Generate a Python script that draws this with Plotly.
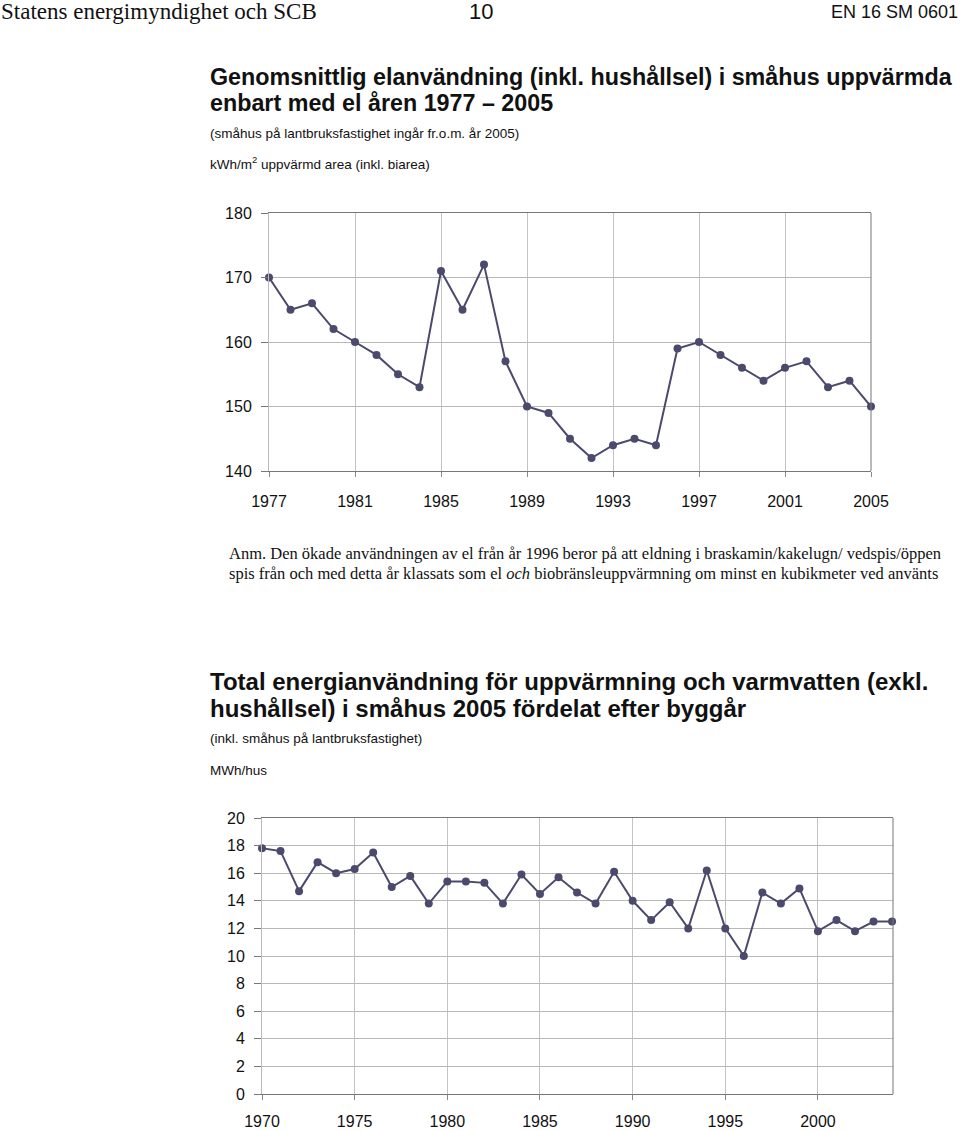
import plotly.graph_objects as go

# ---------- data ----------
years_el = list(range(1977, 2006))
el_use = [170, 165, 166, 162, 160, 158, 155, 153, 171, 165, 172, 157, 150, 149, 145,
          142, 144, 145, 144, 159, 160, 158, 156, 154, 156, 157, 153, 154, 150]

build_years = list(range(1970, 2005))
energy_mwh = [17.8, 17.6, 14.7, 16.8, 16.0, 16.3, 17.5, 15.0, 15.8, 13.8, 15.4, 15.4,
              15.3, 13.8, 15.9, 14.5, 15.7, 14.6, 13.8, 16.1, 14.0, 12.6, 13.9, 12.0,
              16.2, 12.0, 10.0, 14.6, 13.8, 14.9, 11.8, 12.6, 11.8, 12.5, 12.5]

W, H = 960, 1131
LINE = "#4b4a6d"
SANS = "Liberation Sans, Arial, sans-serif"
SERIF = "Liberation Serif, Times New Roman, serif"

def px(x):
    return x / W

def py(y):
    return 1 - y / H

fig = go.Figure()
fig.add_trace(go.Scatter(x=years_el, y=el_use, mode="lines+markers",
                         line=dict(color=LINE, width=2),
                         marker=dict(color=LINE, size=8),
                         xaxis="x", yaxis="y", showlegend=False, cliponaxis=False))
fig.add_trace(go.Scatter(x=build_years, y=energy_mwh, mode="lines+markers",
                         line=dict(color=LINE, width=2),
                         marker=dict(color=LINE, size=8),
                         xaxis="x2", yaxis="y2", showlegend=False, cliponaxis=False))

tickfont = dict(family=SANS, size=16, color="#111")
common_x = dict(showgrid=True, gridcolor="#c4c4c4", gridwidth=1, showline=True,
                linecolor="#777", linewidth=1, mirror=True, ticks="outside",
                ticklen=5, tickcolor="#888", tickfont=tickfont, zeroline=False,
                automargin=False)
common_y = dict(showgrid=True, gridcolor="#b8b8b8", gridwidth=1, showline=True,
                linecolor="#bbbbbb", linewidth=1, ticks="outside", ticklen=7,
                tickcolor="#777", tickfont=tickfont, zeroline=False,
                automargin=False, ticklabelstandoff=6)

fig.update_layout(
    width=W, height=H,
    margin=dict(l=0, r=0, t=0, b=0, pad=0, autoexpand=False),
    paper_bgcolor="white", plot_bgcolor="white",
    xaxis=dict(domain=[px(269), px(871)], range=[1977, 2005], tickmode="linear",
               tick0=1977, dtick=4, anchor="y", ticklabelstandoff=11, **common_x),
    yaxis=dict(domain=[py(471), py(213)], range=[140, 180], tickmode="linear",
               tick0=140, dtick=10, anchor="x", **common_y),
    xaxis2=dict(domain=[px(262), px(893)], range=[1970, 2004.05], tickmode="linear",
                tick0=1970, dtick=5, anchor="y2", ticklabelstandoff=8, **common_x),
    yaxis2=dict(domain=[py(1094), py(818)], range=[0, 20], tickmode="linear",
                tick0=0, dtick=2, anchor="x2", **common_y),
)

# right borders (darker)
for xr, yr in (("x domain", "y domain"), ("x2 domain", "y2 domain")):
    fig.add_shape(type="line", xref=xr, yref=yr, x0=1, x1=1, y0=0, y1=1,
                  line=dict(color="#777", width=1))

def text(x, y, s, size, family=SANS, bold=False, anchor="left", color="#111"):
    if bold:
        s = "<b>" + s + "</b>"
    fig.add_annotation(x=px(x), y=py(y), xref="paper", yref="paper", text=s,
                       showarrow=False, xanchor=anchor, yanchor="middle",
                       borderpad=0, font=dict(family=family, size=size, color=color))

# header
text(0, 12, "Statens energimyndighet och SCB", 23, SERIF)
text(481, 12, "10", 22, SANS, anchor="center")
text(959, 12, "EN 16 SM 0601", 18, SANS, anchor="right")

# chart 1 texts
text(209, 77, "Genomsnittlig elanvändning (inkl. hushållsel) i småhus uppvärmda", 23.3, SANS, bold=True)
text(209, 103, "enbart med el åren 1977 – 2005", 23.3, SANS, bold=True)
text(209, 133, "(småhus på lantbruksfastighet ingår fr.o.m. år 2005)", 13.5, SANS)
text(209, 163, "kWh/m<sup>2</sup> uppvärmd area (inkl. biarea)", 13.5, SANS)

# note
text(228, 553, "Anm. Den ökade användningen av el från år 1996 beror på att eldning i braskamin/kakelugn/ vedspis/öppen", 16.5, SERIF)
text(228, 573, "spis från och med detta år klassats som el <i>och</i> biobränsleuppvärmning om minst en kubikmeter ved använts", 16.5, SERIF)

# chart 2 texts
text(209, 681, "Total energianvändning för uppvärmning och varmvatten (exkl.", 24, SANS, bold=True)
text(209, 708, "hushållsel) i småhus 2005 fördelat efter byggår", 24, SANS, bold=True)
text(209, 739, "(inkl. småhus på lantbruksfastighet)", 13.5, SANS)
text(209, 770, "MWh/hus", 13.5, SANS)

fig.write_html("out.html", config={"displayModeBar": False},
               post_script="document.body.style.margin='0';document.body.style.overflow='hidden';")
